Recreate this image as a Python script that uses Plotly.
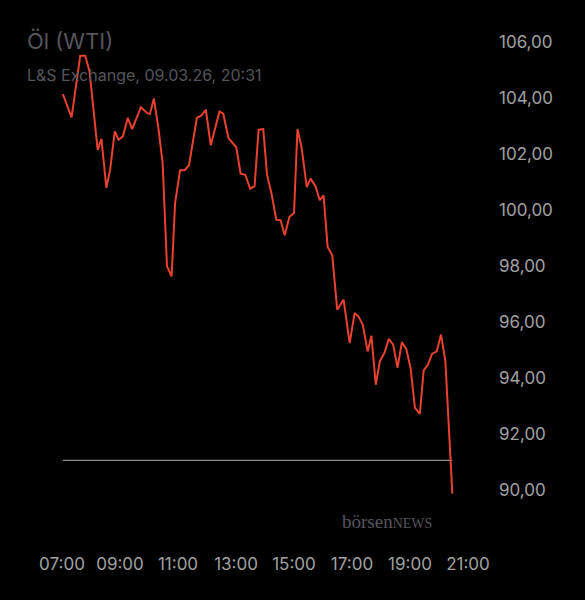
import plotly.graph_objects as go

# intraday WTI quotes, hours after midnight (09.03.26)
hours = [7.03, 7.33, 7.63, 7.8, 7.95, 8.08, 8.23, 8.36, 8.53, 8.66, 8.82, 8.95, 9.1, 9.27,
         9.42, 9.72, 9.94, 10.03, 10.17, 10.33, 10.47, 10.62, 10.78, 10.9, 11.07, 11.23,
         11.38, 11.65, 11.81, 11.96, 12.13, 12.43, 12.56, 12.74, 12.87, 13.01, 13.16,
         13.32, 13.49, 13.64, 13.78, 13.94, 14.07, 14.22, 14.39, 14.54, 14.68, 14.84,
         15.0, 15.12, 15.26, 15.44, 15.57, 15.74, 15.89, 16.02, 16.16, 16.32, 16.49,
         16.71, 16.92, 17.09, 17.22, 17.37, 17.54, 17.67, 17.82, 17.96, 18.12, 18.27,
         18.42, 18.57, 18.72, 18.87, 19.02, 19.17, 19.34, 19.47, 19.62, 19.76, 19.92,
         20.07, 20.22, 20.46]
prices = [104.14, 103.31, 105.51, 105.51, 104.95, 103.70, 102.15, 102.54, 100.79, 101.44,
          102.81, 102.51, 102.63, 103.29, 102.89, 103.67, 103.46, 103.43, 103.98, 102.87,
          101.68, 97.99, 97.63, 100.25, 101.42, 101.42, 101.6, 103.29, 103.38, 103.58,
          102.31, 103.52, 103.44, 102.57, 102.39, 102.24, 101.3, 101.26, 100.76, 100.85,
          102.87, 102.89, 101.26, 100.61, 99.65, 99.63, 99.1, 99.75, 99.89, 102.89,
          102.24, 100.82, 101.12, 100.85, 100.35, 100.52, 98.68, 98.38, 96.44, 96.8,
          95.25, 96.32, 96.2, 95.91, 94.95, 95.51, 93.76, 94.6, 94.9, 95.4, 95.19, 94.36,
          95.28, 95.04, 94.36, 92.93, 92.72, 94.26, 94.48, 94.86, 94.95, 95.55, 94.6, 89.87]
prev_close = 91.06
tick_hours = [7, 9, 11, 13, 15, 17, 19, 21]
tick_labels = ["07:00", "09:00", "11:00", "13:00", "15:00", "17:00", "19:00", "21:00"]
price_ticks = [90, 92, 94, 96, 98, 100, 102, 104, 106]

fig = go.Figure()
fig.add_trace(go.Scatter(x=[hours[0], hours[-1]], y=[prev_close, prev_close], mode="lines",
                         line=dict(color="#8a8a8a", width=1.2), hoverinfo="skip"))
fig.add_trace(go.Scatter(x=hours, y=prices, mode="lines",
                         line=dict(color="#e8412f", width=2)))

fig.update_xaxes(range=[7 - 42 / 29, 21 + 17 / 29], tickvals=tick_hours, ticktext=tick_labels,
                 showgrid=False, zeroline=False, showline=False, ticks="",
                 tickfont=dict(color="#a0a0a0", size=17), ticklabelstandoff=12)
fig.update_yaxes(range=[90 - 50 / 28, 106 + 22 / 28], side="right", tickvals=price_ticks,
                 tickformat=".2f", showgrid=False, zeroline=False, showline=False, ticks="",
                 tickfont=dict(color="#a0a0a0", size=17), ticklabelstandoff=13)

fig.add_annotation(text="Öl (WTI)", xref="paper", yref="paper", x=0.01, y=1.0,
                   xanchor="left", yanchor="top", showarrow=False,
                   font=dict(color="#55555c", size=22), yshift=-6)
fig.add_annotation(text="L&S Exchange, 09.03.26, 20:31", xref="paper", yref="paper",
                   x=0.01, y=1.0, xanchor="left", yanchor="top", showarrow=False,
                   font=dict(color="#55555c", size=16), yshift=-43)
fig.add_annotation(text="börsen<span style='font-size:14px'>NEWS</span>", xref="paper",
                   yref="paper", x=0.89, y=0.035, xanchor="right", yanchor="middle",
                   showarrow=False, font=dict(color="#55555e", size=19, family="Liberation Serif"))

fig.update_layout(width=585, height=600, plot_bgcolor="black", paper_bgcolor="black",
                  separators=",.", showlegend=False,
                  font=dict(family="Inter"),
                  margin=dict(l=20, r=100, t=20, b=60))
fig.write_html("out.html", config={"displayModeBar": False},
               post_script="document.body.style.margin='0';document.body.style.background='black';")
